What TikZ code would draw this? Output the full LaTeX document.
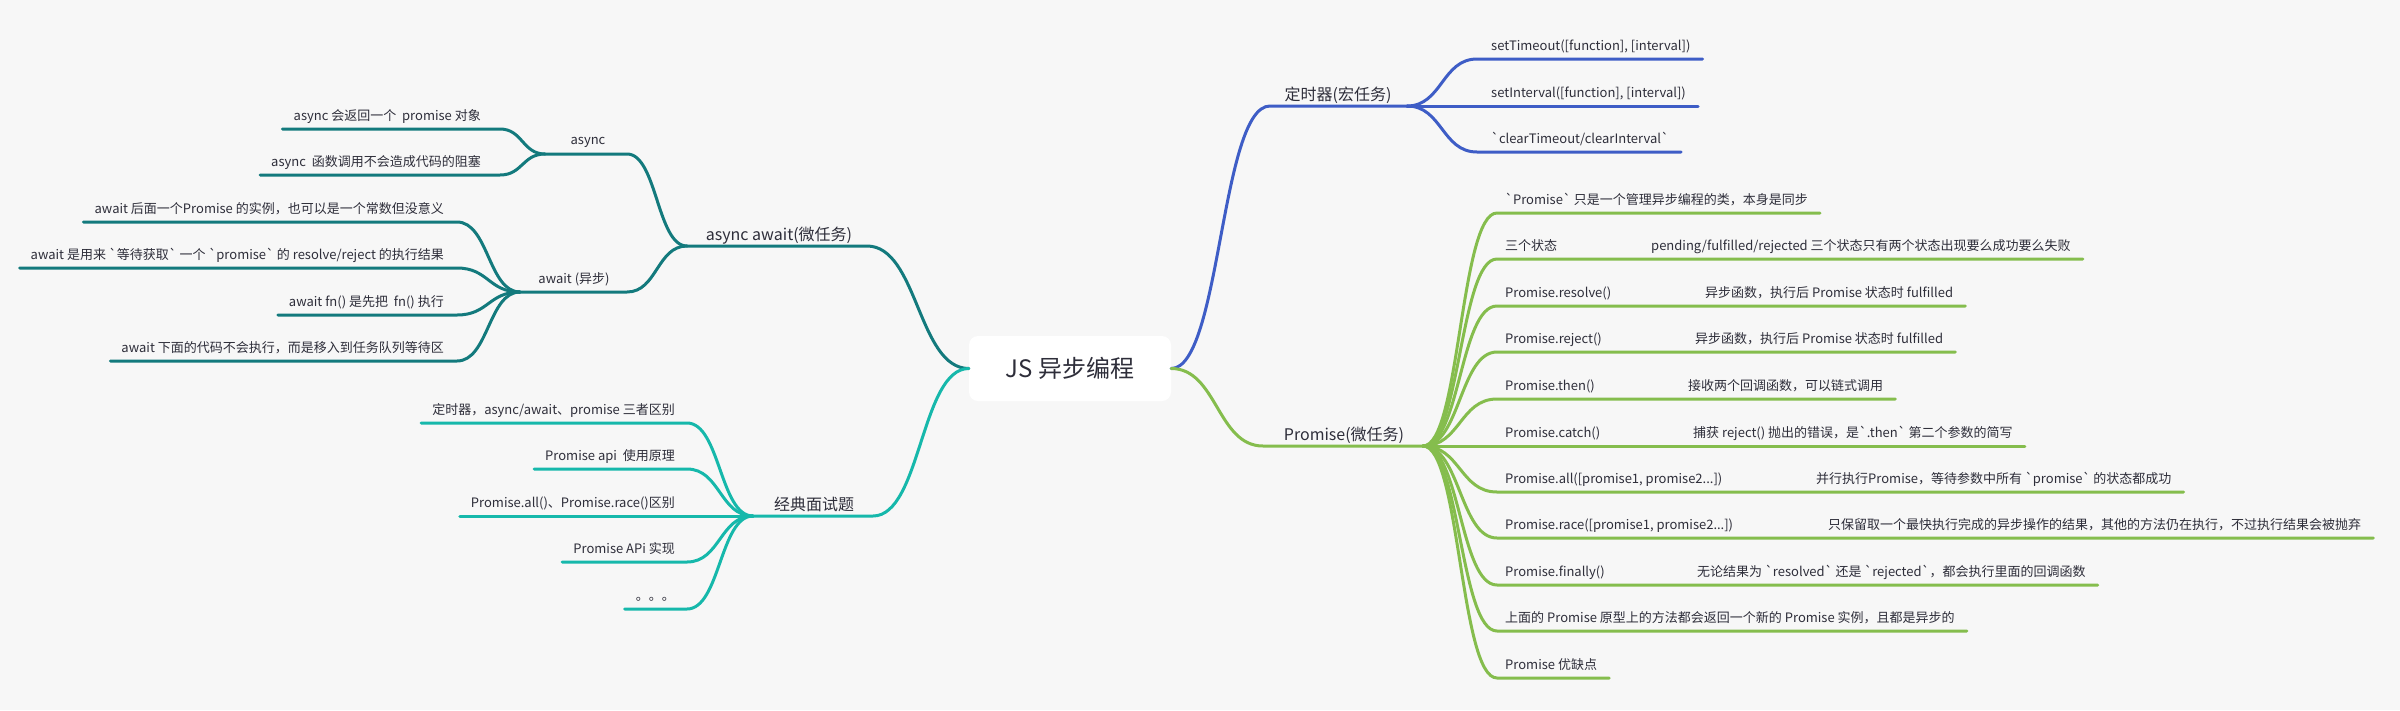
\documentclass[tikz,border=0pt]{standalone}
\usepackage{fontspec}
\setmainfont{Noto Sans CJK SC}[Ligatures=TeXOff]
\usetikzlibrary{calc}
\definecolor{bg}{HTML}{F7F7F7}
\definecolor{txt}{HTML}{2E2E3A}
\definecolor{cBlue}{HTML}{3E5DC6}
\definecolor{cGreen}{HTML}{85BD4D}
\definecolor{cTeal}{HTML}{137A7D}
\definecolor{cCyan}{HTML}{16B8AB}
% S-shaped connector with horizontal tangents, then a straight underline
\newcommand\branch[4]{\draw[#1] let \p1=(#2), \p2=(#3) in (\p1) .. controls ({(\x1+\x2)/2},\y1) and ({(\x1+\x2)/2},\y2) .. (\p2) -- (#4);}
% right-hand leaf: style, fan, name, curve-end x, text x, line y, text
\newcommand\RLeaf[7]{%
  \coordinate (#3c) at (#4,#6);
  \node[leafR] (#3) at (#5,#6-9) {#7};
  \branch{#1}{#2}{#3c}{$(#3.east|-#3c)+(12,0)$}}
% left-hand leaf: style, fan, name, curve-end x, text right x, line y, text
\newcommand\LLeaf[7]{%
  \coordinate (#3c) at (#4,#6);
  \node[leafL] (#3) at (#5,#6-9) {#7};
  \branch{#1}{#2}{#3c}{$(#3.west|-#3c)+(-11,0)$}}
\begin{document}
\begin{tikzpicture}[x=1pt,y=-1pt,
  every node/.style={text=txt, inner sep=0pt},
  leaf/.style={font=\fontsize{13}{15}\selectfont},
  leafR/.style={leaf, anchor=base west},
  leafL/.style={leaf, anchor=base east},
  sub/.style={font=\fontsize{16}{19}\selectfont, anchor=base},
  subsub/.style={font=\fontsize{13}{15}\selectfont, anchor=base},
  root/.style={fill=white, rounded corners=9pt, minimum width=202pt, minimum height=65pt, font=\fontsize{24}{28}\selectfont},
  conn/.style={line width=3pt, line cap=round},
  bl/.style={conn, draw=cBlue},
  gr/.style={conn, draw=cGreen},
  tl/.style={conn, draw=cTeal},
  cy/.style={conn, draw=cCyan}]
\fill[bg] (0,0) rectangle (2400,710);
\useasboundingbox (0,0) rectangle (2400,710);

\node[root] (root) at (1070,368.5) {JS 异步编程};

% ---------- timers (blue) ----------
\coordinate (tmA) at (1270,106);
\coordinate (tmF) at (1407,106);
\branch{bl}{root.east}{tmA}{tmF}
\node[sub] (tm) at (1338,100) {定时器(宏任务)};
\RLeaf{bl}{tmF}{t1}{1477}{1491}{59}{setTimeout([function], [interval])}
\RLeaf{bl}{tmF}{t2}{1477}{1491}{106}{setInterval([function], [interval])}
\RLeaf{bl}{tmF}{t3}{1477}{1491}{152}{`clearTimeout/clearInterval`}

% ---------- Promise (green) ----------
\coordinate (prA) at (1263,446);
\coordinate (prF) at (1423,446);
\branch{gr}{root.east}{prA}{prF}
\node[sub] (pr) at (1344,440) {Promise(微任务)};
\RLeaf{gr}{prF}{p1}{1497}{1505}{213}{`Promise` 只是一个管理异步编程的类，本身是同步}
\RLeaf{gr}{prF}{p2}{1497}{1505}{259}{\makebox[146pt][l]{三个状态}pending/fulfilled/rejected 三个状态只有两个状态出现要么成功要么失败}
\RLeaf{gr}{prF}{p3}{1497}{1505}{306}{\makebox[200pt][l]{Promise.resolve()}异步函数，执行后 Promise 状态时 fulfilled}
\RLeaf{gr}{prF}{p4}{1497}{1505}{352}{\makebox[190pt][l]{Promise.reject()}异步函数，执行后 Promise 状态时 fulfilled}
\RLeaf{gr}{prF}{p5}{1497}{1505}{399}{\makebox[183pt][l]{Promise.then()}接收两个回调函数，可以链式调用}
\RLeaf{gr}{prF}{p6}{1497}{1505}{446}{\makebox[188pt][l]{Promise.catch()}捕获 reject() 抛出的错误，是`.then` 第二个参数的简写}
\RLeaf{gr}{prF}{p7}{1497}{1505}{492}{\makebox[311pt][l]{Promise.all([promise1, promise2...])}并行执行Promise，等待参数中所有 `promise` 的状态都成功}
\RLeaf{gr}{prF}{p8}{1497}{1505}{538}{\makebox[323pt][l]{Promise.race([promise1, promise2...])}只保留取一个最快执行完成的异步操作的结果，其他的方法仍在执行，不过执行结果会被抛弃}
\RLeaf{gr}{prF}{p9}{1497}{1505}{585}{\makebox[192pt][l]{Promise.finally()}无论结果为 `resolved` 还是 `rejected`，都会执行里面的回调函数}
\RLeaf{gr}{prF}{p10}{1497}{1505}{631}{上面的 Promise 原型上的方法都会返回一个新的 Promise 实例，且都是异步的}
\RLeaf{gr}{prF}{p11}{1497}{1505}{678}{Promise 优缺点}

% ---------- async await (teal) ----------
\coordinate (aaA) at (867,246);
\coordinate (aaF) at (687,246);
\branch{tl}{root.west}{aaA}{aaF}
\node[sub] (aa) at (779,240) {async await(微任务)};
\coordinate (asA) at (627,154);
\coordinate (asF) at (545,154);
\branch{tl}{aaF}{asA}{asF}
\node[subsub] (as) at (588,144) {async};
\coordinate (awA) at (627,292);
\coordinate (awF) at (520,292);
\branch{tl}{aaF}{awA}{awF}
\node[subsub] (aw) at (574,283) {await (异步)};
\LLeaf{tl}{asF}{a1}{500}{481}{129}{async 会返回一个\ \ promise 对象}
\LLeaf{tl}{asF}{a2}{500}{481}{175}{async\ \ 函数调用不会造成代码的阻塞}
\LLeaf{tl}{awF}{w1}{457}{444}{222}{await 后面一个Promise 的实例，也可以是一个常数但没意义}
\LLeaf{tl}{awF}{w2}{457}{444}{268}{await 是用来 `等待获取` 一个 `promise` 的 resolve/reject 的执行结果}
\LLeaf{tl}{awF}{w3}{457}{444}{315}{await fn() 是先把\ \ fn() 执行}
\LLeaf{tl}{awF}{w4}{457}{444}{361}{await 下面的代码不会执行，而是移入到任务队列等待区}

% ---------- interview (cyan) ----------
\coordinate (ivA) at (873,516);
\coordinate (ivF) at (753,516);
\branch{cy}{root.west}{ivA}{ivF}
\node[sub] (iv) at (814,510) {经典面试题};
\LLeaf{cy}{ivF}{i1}{687}{675}{423}{定时器，async/await、promise 三者区别}
\LLeaf{cy}{ivF}{i2}{687}{675}{469}{Promise api\ \ 使用原理}
\LLeaf{cy}{ivF}{i3}{687}{675}{516}{Promise.all()、Promise.race()区别}
\LLeaf{cy}{ivF}{i4}{687}{675}{562}{Promise APi 实现}
\LLeaf{cy}{ivF}{i5}{687}{675}{609}{。。。}
\end{tikzpicture}
\end{document}
